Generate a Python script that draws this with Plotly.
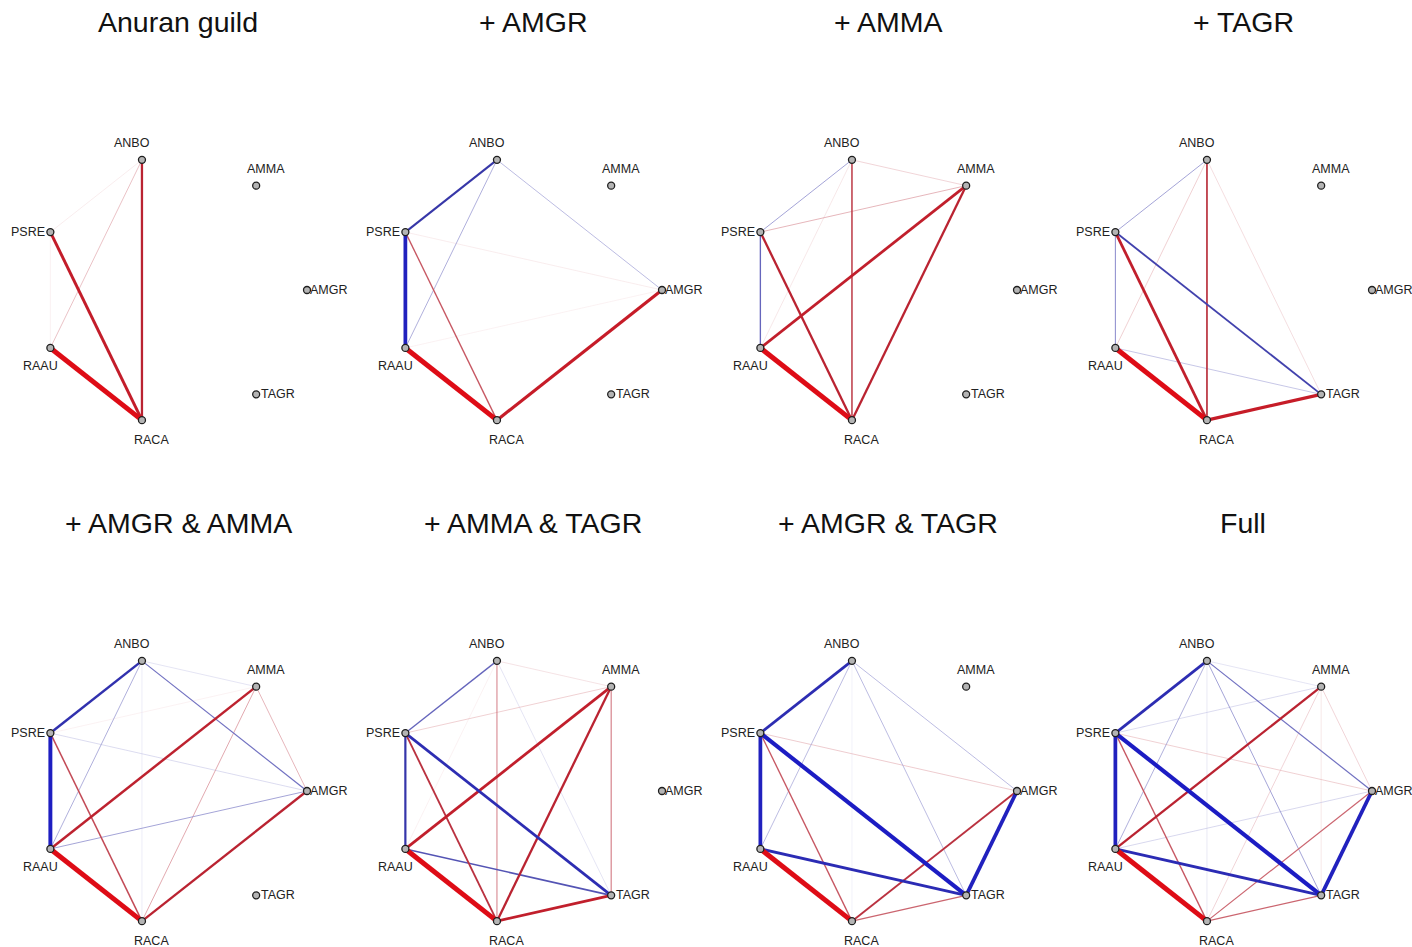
import math
import plotly.graph_objects as go

# Species (nodes), clockwise from the top of each ring
species = ["ANBO", "AMMA", "AMGR", "TAGR", "RACA", "RAAU", "PSRE"]

# Panel titles, row by row
panel_titles = [
    "Anuran guild", "+ AMGR", "+ AMMA", "+ TAGR",
    "+ AMGR & AMMA", "+ AMMA & TAGR", "+ AMGR & TAGR", "Full",
]

# Association edges per model: (species a, species b, partial association)
edges_anuran = [
    ("ANBO", "PSRE", 0.03), ("PSRE", "RAAU", 0.02), ("ANBO", "RAAU", 0.12),
    ("ANBO", "RACA", 0.33), ("PSRE", "RACA", 0.40), ("RAAU", "RACA", 0.60),
]
edges_amgr = [
    ("PSRE", "AMGR", 0.03), ("RAAU", "AMGR", 0.02), ("ANBO", "RAAU", -0.14),
    ("ANBO", "AMGR", -0.13), ("PSRE", "RACA", 0.22), ("ANBO", "PSRE", -0.30),
    ("RACA", "AMGR", 0.42), ("PSRE", "RAAU", -0.48), ("RAAU", "RACA", 0.60),
]
edges_amma = [
    ("ANBO", "RAAU", 0.04), ("ANBO", "AMMA", 0.08), ("PSRE", "AMMA", 0.13),
    ("ANBO", "PSRE", -0.15), ("PSRE", "RAAU", -0.22), ("ANBO", "RACA", 0.25),
    ("PSRE", "RACA", 0.33), ("RACA", "AMMA", 0.33), ("RAAU", "AMMA", 0.38),
    ("RAAU", "RACA", 0.60),
]
edges_tagr = [
    ("ANBO", "TAGR", 0.06), ("ANBO", "RAAU", 0.09), ("RAAU", "TAGR", -0.12),
    ("ANBO", "PSRE", -0.15), ("PSRE", "RAAU", -0.17), ("ANBO", "RACA", 0.27),
    ("PSRE", "TAGR", -0.28), ("PSRE", "RACA", 0.38), ("RACA", "TAGR", 0.42),
    ("RAAU", "RACA", 0.60),
]
edges_amgr_amma = [
    ("ANBO", "RACA", -0.03), ("ANBO", "AMMA", -0.05), ("PSRE", "AMMA", 0.02),
    ("PSRE", "AMGR", -0.07), ("AMMA", "AMGR", 0.13), ("RACA", "AMMA", 0.14),
    ("ANBO", "RAAU", -0.14), ("RAAU", "AMGR", -0.15), ("ANBO", "AMGR", -0.20),
    ("PSRE", "RACA", 0.24), ("RACA", "AMGR", 0.33), ("RAAU", "AMMA", 0.35),
    ("ANBO", "PSRE", -0.35), ("PSRE", "RAAU", -0.50), ("RAAU", "RACA", 0.60),
]
edges_amma_tagr = [
    ("ANBO", "RAAU", 0.02), ("ANBO", "TAGR", -0.05), ("ANBO", "AMMA", 0.05),
    ("PSRE", "AMMA", 0.09), ("ANBO", "RACA", 0.17), ("AMMA", "TAGR", 0.18),
    ("ANBO", "PSRE", -0.22), ("RAAU", "TAGR", -0.25), ("PSRE", "RACA", 0.28),
    ("PSRE", "RAAU", -0.32), ("RACA", "AMMA", 0.33), ("RAAU", "AMMA", 0.38),
    ("RACA", "TAGR", 0.38), ("PSRE", "TAGR", -0.38), ("RAAU", "RACA", 0.60),
]
edges_amgr_tagr = [
    ("ANBO", "RACA", -0.02), ("PSRE", "AMGR", 0.10), ("ANBO", "RAAU", -0.13),
    ("ANBO", "TAGR", -0.13), ("ANBO", "AMGR", -0.13), ("RACA", "TAGR", 0.20),
    ("PSRE", "RACA", 0.22), ("RACA", "AMGR", 0.28), ("ANBO", "PSRE", -0.38),
    ("RAAU", "TAGR", -0.40), ("PSRE", "RAAU", -0.48), ("AMGR", "TAGR", -0.48),
    ("PSRE", "TAGR", -0.52), ("RAAU", "RACA", 0.60),
]
edges_full = [
    ("AMMA", "TAGR", 0.04), ("ANBO", "RACA", -0.04), ("ANBO", "AMMA", -0.05),
    ("PSRE", "AMMA", -0.07), ("RAAU", "AMGR", -0.08), ("RACA", "AMMA", 0.08),
    ("AMMA", "AMGR", 0.08), ("PSRE", "AMGR", 0.09), ("ANBO", "RAAU", -0.14),
    ("ANBO", "TAGR", -0.15), ("ANBO", "AMGR", -0.20), ("RACA", "AMGR", 0.20),
    ("RACA", "TAGR", 0.20), ("PSRE", "RACA", 0.22), ("RAAU", "AMMA", 0.33),
    ("ANBO", "PSRE", -0.38), ("RAAU", "TAGR", -0.40), ("PSRE", "RAAU", -0.48),
    ("AMGR", "TAGR", -0.48), ("PSRE", "TAGR", -0.52), ("RAAU", "RACA", 0.60),
]

panel_edges = [
    edges_anuran, edges_amgr, edges_amma, edges_tagr,
    edges_amgr_amma, edges_amma_tagr, edges_amgr_tagr, edges_full,
]

# ---- layout of the page (pixel-based canvas) ----
W, H = 1412, 947
COL_STEP, ROW_STEP = 355, 501
CX0, CY0 = 172, 290
RX, RY = 135, 133.5
MAX_W = 0.6

# label placement around each node: (xanchor, xshift, yshift)
label_place = {
    "ANBO": ("center", -10, 17),
    "AMMA": ("center", 10, 17),
    "AMGR": ("left", 1, 0),
    "TAGR": ("left", 3, 0),
    "RACA": ("center", 10, -20),
    "RAAU": ("center", -10, -18),
    "PSRE": ("right", -3, 0),
}

POS_MID, POS_FULL = (182, 38, 52), (222, 12, 22)
NEG_MID, NEG_FULL = (55, 55, 168), (18, 18, 205)


def edge_colour(w):
    t = min(abs(w) / MAX_W, 1.0)
    mid, full = (POS_MID, POS_FULL) if w > 0 else (NEG_MID, NEG_FULL)
    if t < 0.5:
        f = (t / 0.5) ** 0.85
        c = [255 + (m - 255) * f for m in mid]
    else:
        f = (t - 0.5) / 0.5
        c = [m + (fu - m) * f for m, fu in zip(mid, full)]
    return "rgb(%d,%d,%d)" % tuple(round(v) for v in c)


def edge_width(w):
    return max(0.6, 5.0 * (abs(w) / MAX_W) ** 1.3)


def node_xy(panel):
    row, col = divmod(panel, 4)
    cx, cy = CX0 + COL_STEP * col, CY0 + ROW_STEP * row
    xy = {}
    for i, sp in enumerate(species):
        a = math.radians((i - 2) * 360 / 7)
        xy[sp] = (cx + RX * math.cos(a), cy + RY * math.sin(a))
    return xy


fig = go.Figure()
annotations = []

for p, edges in enumerate(panel_edges):
    xy = node_xy(p)
    for a, b, w in sorted(edges, key=lambda e: abs(e[2])):
        fig.add_trace(go.Scatter(
            x=[xy[a][0], xy[b][0]], y=[xy[a][1], xy[b][1]],
            mode="lines",
            line=dict(color=edge_colour(w), width=edge_width(w)),
            hoverinfo="skip", showlegend=False,
        ))
    fig.add_trace(go.Scatter(
        x=[xy[s][0] for s in species], y=[xy[s][1] for s in species],
        mode="markers",
        marker=dict(size=7, color="#b4b4b4", line=dict(color="#1e1e1e", width=1.3)),
        hoverinfo="skip", showlegend=False,
    ))
    for s in species:
        anchor, xs, ys = label_place[s]
        annotations.append(dict(
            x=xy[s][0], y=xy[s][1], xref="x", yref="y", text=s,
            showarrow=False, xanchor=anchor, yanchor="middle",
            xshift=xs, yshift=ys,
            font=dict(family="Liberation Sans, Arial, sans-serif", size=12.5, color="#222222"),
        ))
    row, col = divmod(p, 4)
    annotations.append(dict(
        x=178 + COL_STEP * col, y=22 + ROW_STEP * row, xref="x", yref="y",
        text=panel_titles[p], showarrow=False, xanchor="center", yanchor="middle",
        font=dict(family="Liberation Sans, Arial, sans-serif", size=28.5, color="#111111"),
    ))

fig.update_layout(
    width=W, height=H,
    margin=dict(l=0, r=0, t=0, b=0),
    paper_bgcolor="white", plot_bgcolor="white",
    xaxis=dict(range=[0, W], visible=False, fixedrange=True),
    yaxis=dict(range=[H, 0], visible=False, fixedrange=True),
    annotations=annotations,
    showlegend=False,
    hovermode=False,
)

fig.write_html("out.html")
